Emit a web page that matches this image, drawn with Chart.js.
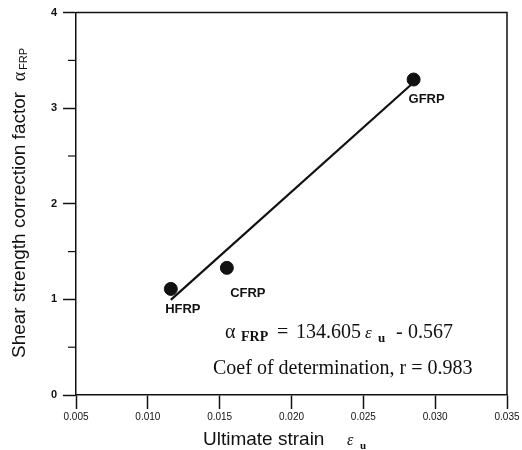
<!DOCTYPE html>
<html>
<head>
<meta charset="utf-8">
<script src="https://cdn.jsdelivr.net/npm/chart.js@4"></script>
<style>
  html, body { margin: 0; padding: 0; background: #fff; }
  #wrap { width: 522px; height: 450px; }
</style>
</head>
<body>
<div id="wrap"><canvas id="myChart" width="522" height="450"></canvas></div>
<script>
// data
const materials = ['HFRP', 'CFRP', 'GFRP'];
const strains = [0.0116, 0.0155, 0.0285];
const factors = [1.11, 1.33, 3.30];
// fitted line: a = 134.605 * e - 0.567
const fitSlope = 134.605;
const fitIntercept = -0.567;
const fitRange = [0.0116, 0.0283];
const xTicks = [0.005, 0.010, 0.015, 0.020, 0.025, 0.030, 0.035];
const yTicks = [0, 1, 2, 3, 4];

const ink = '#111';
const serif = '"Liberation Serif", "Times New Roman", serif';
const sans = '"Liberation Sans", Arial, sans-serif';

const fitPoints = fitRange.map(x => ({ x: x, y: fitSlope * x + fitIntercept }));
const dataPoints = strains.map((x, i) => ({ x: x, y: factors[i] }));

const decorPlugin = {
  id: 'decor',
  afterDraw(chart) {
    const ctx = chart.ctx;
    const area = chart.chartArea;
    const xs = chart.scales.x;
    const ys = chart.scales.y;
    ctx.save();
    ctx.strokeStyle = ink;
    ctx.lineWidth = 1.5;
    // top and right frame
    ctx.beginPath();
    ctx.moveTo(area.left, area.top);
    ctx.lineTo(area.right, area.top);
    ctx.lineTo(area.right, area.bottom);
    ctx.stroke();
    // minor y ticks
    ctx.lineWidth = 1.2;
    for (let v = 0.5; v < 4; v += 1) {
      const py = ys.getPixelForValue(v);
      ctx.beginPath();
      ctx.moveTo(area.left - 8, py);
      ctx.lineTo(area.left, py);
      ctx.stroke();
    }

    // point labels
    ctx.fillStyle = ink;
    ctx.font = 'bold 13px ' + sans;
    ctx.textAlign = 'center';
    ctx.textBaseline = 'middle';
    const offsets = [[12, 21], [21, 26], [13, 20]];
    materials.forEach((m, i) => {
      const px = xs.getPixelForValue(strains[i]);
      const py = ys.getPixelForValue(factors[i]);
      ctx.fillText(m, px + offsets[i][0], py + offsets[i][1]);
    });

    // equation
    ctx.textAlign = 'left';
    ctx.textBaseline = 'alphabetic';
    const base = 338;
    const parts = [
      ['α', '20px ' + serif, 225, 0],
      ['FRP', 'bold 14px ' + serif, 241, 3],
      ['=', '20px ' + serif, 277, 0],
      ['134.605', '20px ' + serif, 296, 0],
      ['ε', 'italic 17px ' + serif, 365, 0],
      ['u', 'bold 13px ' + serif, 378, 4],
      ['-', '20px ' + serif, 396, 0],
      ['0.567', '20px ' + serif, 408, 0]
    ];
    parts.forEach(p => {
      ctx.font = p[1];
      ctx.fillText(p[0], p[2], base + p[3]);
    });
    ctx.font = '20px ' + serif;
    ctx.fillText('Coef of determination, r = 0.983', 213, 374);

    // x axis title
    ctx.font = '19px ' + sans;
    ctx.fillText('Ultimate strain', 203, 445);
    ctx.font = 'italic 16px ' + serif;
    ctx.fillText('ε', 347, 445);
    ctx.font = 'bold 11px ' + serif;
    ctx.fillText('u', 360, 449);

    // y axis title
    ctx.translate(25, 358);
    ctx.rotate(-Math.PI / 2);
    let ty = 0;
    ctx.font = '19px ' + sans;
    ctx.fillText('Shear strength correction factor  ', ty, 0);
    ty += ctx.measureText('Shear strength correction factor  ').width;
    ctx.font = '18px ' + serif;
    ctx.fillText('α', ty, 0);
    ty += ctx.measureText('α').width + 2;
    ctx.font = '11px ' + sans;
    ctx.fillText('FRP', ty, 2);
    ctx.restore();
  }
};

const chart = new Chart(document.getElementById('myChart').getContext('2d'), {
  type: 'scatter',
  data: {
    datasets: [
      {
        type: 'line',
        label: 'fit',
        data: fitPoints,
        borderColor: ink,
        borderWidth: 2.2,
        pointRadius: 0,
        showLine: true,
        fill: false
      },
      {
        label: 'FRP',
        data: dataPoints,
        backgroundColor: ink,
        borderColor: ink,
        pointRadius: 6.5,
        pointHoverRadius: 6.5
      }
    ]
  },
  plugins: [decorPlugin],
  options: {
    responsive: false,
    animation: false,
    events: [],
    layout: { padding: { top: 12, right: 15, left: 0, bottom: 0 } },
    plugins: { legend: { display: false }, tooltip: { enabled: false } },
    scales: {
      x: {
        type: 'linear',
        min: 0.005,
        max: 0.035,
        afterBuildTicks: s => { s.ticks = xTicks.map(v => ({ value: v })); },
        afterFit: s => { s.height = 55; },
        ticks: {
          color: ink,
          padding: 2,
          maxRotation: 0,
          font: { family: sans, size: 10 },
          callback: v => v.toFixed(3)
        },
        grid: { drawOnChartArea: false, tickLength: 14, tickColor: ink, tickWidth: 1.5 },
        border: { color: ink, width: 1.5 }
      },
      y: {
        type: 'linear',
        min: 0,
        max: 4,
        afterBuildTicks: s => { s.ticks = yTicks.map(v => ({ value: v })); },
        afterFit: s => { s.width = 76; },
        ticks: {
          color: ink,
          padding: 6,
          font: { family: sans, size: 11, weight: 'bold' },
          callback: v => String(v)
        },
        grid: { drawOnChartArea: false, tickLength: 13, tickColor: ink, tickWidth: 1.5 },
        border: { color: ink, width: 1.5 }
      }
    }
  }
});
</script>
</body>
</html>
